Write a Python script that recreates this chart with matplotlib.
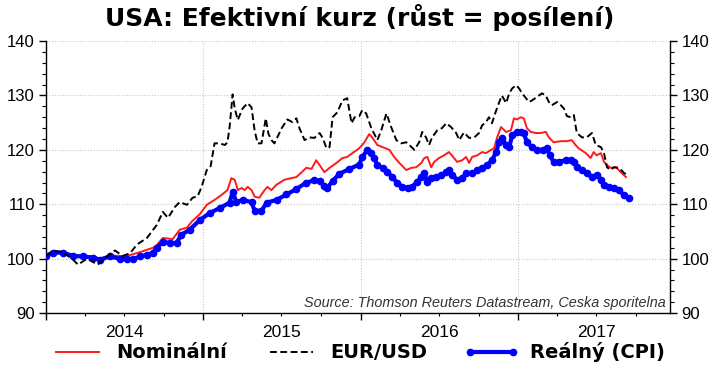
import matplotlib
matplotlib.use("Agg")
import matplotlib.pyplot as plt
import matplotlib.dates as mdates
from matplotlib.ticker import MultipleLocator, FuncFormatter, NullFormatter
import pandas as pd

plt.rcParams['font.family'] = ['Liberation Sans', 'DejaVu Sans']

title = "USA: Efektivní kurz (růst = posílení)"
source = "Source: Thomson Reuters Datastream, Ceska sporitelna"
labels = ["Nominální", "EUR/USD", "Reálný (CPI)"]

eurusd_dates = ["2014-01-01", "2014-01-17", "2014-02-09", "2014-03-05", "2014-03-16", "2014-04-06",
    "2014-05-01", "2014-05-22", "2014-06-10", "2014-06-28", "2014-07-15", "2014-07-31", "2014-08-23",
    "2014-09-15", "2014-09-29", "2014-10-11", "2014-10-27", "2014-11-07", "2014-11-24", "2014-12-07",
    "2014-12-19", "2014-12-28", "2015-01-09", "2015-01-18", "2015-01-27", "2015-02-08", "2015-02-20",
    "2015-02-26", "2015-03-03", "2015-03-10", "2015-03-15", "2015-03-22", "2015-04-02", "2015-04-14",
    "2015-04-23", "2015-04-30", "2015-05-07", "2015-05-16", "2015-05-26", "2015-06-01", "2015-06-08",
    "2015-06-15", "2015-07-02", "2015-07-15", "2015-07-27", "2015-08-05", "2015-08-12", "2015-08-24",
    "2015-09-04", "2015-09-16", "2015-09-28", "2015-10-05", "2015-10-14", "2015-10-21", "2015-10-28",
    "2015-11-08", "2015-11-20", "2015-12-01", "2015-12-11", "2015-12-18", "2015-12-29", "2016-01-05",
    "2016-01-14", "2016-01-26", "2016-02-09", "2016-02-18", "2016-03-01", "2016-03-12", "2016-03-24",
    "2016-04-04", "2016-04-16", "2016-04-23", "2016-05-05", "2016-05-16", "2016-05-23", "2016-06-01",
    "2016-06-08", "2016-06-15", "2016-06-27", "2016-07-08", "2016-07-18", "2016-07-29", "2016-08-10",
    "2016-08-17", "2016-08-28", "2016-09-09", "2016-09-21", "2016-10-02", "2016-10-09", "2016-10-18",
    "2016-10-25", "2016-11-01", "2016-11-11", "2016-11-17", "2016-11-24", "2016-12-04", "2016-12-11",
    "2016-12-18", "2016-12-27", "2017-01-03", "2017-01-10", "2017-01-19", "2017-01-26", "2017-02-02",
    "2017-02-13", "2017-02-25", "2017-03-06", "2017-03-13", "2017-03-20", "2017-04-01", "2017-04-10",
    "2017-04-17", "2017-04-24", "2017-05-03", "2017-05-10", "2017-05-17", "2017-05-29", "2017-06-09",
    "2017-06-21", "2017-06-30", "2017-07-12", "2017-07-19", "2017-07-26", "2017-08-04", "2017-08-11",
    "2017-08-23", "2017-09-03", "2017-09-10"]
eurusd_values = [100.5, 101.5, 101.2, 99.8, 98.9, 100.0,
    98.9, 100.4, 101.5, 100.5, 101.0, 102.6, 103.8,
    106.2, 108.6, 107.5, 109.5, 110.4, 109.9, 111.2,
    111.5, 113.2, 116.3, 117.0, 121.2, 121.2, 120.9,
    121.4, 124.2, 130.2, 127.6, 125.5, 127.6, 128.6,
    127.8, 123.6, 121.2, 121.2, 125.8, 123.0, 121.8,
    121.2, 124.0, 125.6, 125.1, 125.8, 124.0, 121.8,
    122.3, 122.2, 123.1, 122.2, 120.3, 120.5, 126.0,
    126.9, 129.1, 129.5, 124.9, 126.0, 126.2, 127.3,
    126.7, 124.0, 121.8, 123.6, 126.7, 124.2, 121.8,
    121.2, 121.4, 120.9, 120.0, 121.4, 123.3, 122.3,
    120.9, 122.3, 123.6, 124.0, 124.9, 124.2, 123.1,
    121.8, 123.2, 122.2, 122.3, 123.1, 124.5, 125.1,
    126.0, 124.9, 127.3, 128.6, 130.0, 128.6, 130.4,
    131.3, 131.9, 131.3, 130.4, 129.5, 128.8, 129.1,
    129.7, 130.4, 130.0, 128.8, 128.2, 128.8, 128.2,
    127.6, 126.2, 126.0, 126.4, 123.1, 122.3, 122.3,
    123.1, 120.9, 120.5, 119.4, 116.8, 116.3, 116.8,
    116.7, 115.8, 115.4]

nominal_dates = ["2014-01-01", "2014-01-17", "2014-02-09", "2014-03-05", "2014-03-28", "2014-04-20",
    "2014-05-06", "2014-05-29", "2014-06-21", "2014-07-08", "2014-08-07", "2014-09-06", "2014-09-15",
    "2014-09-29", "2014-10-22", "2014-11-07", "2014-11-24", "2014-12-05", "2014-12-24", "2015-01-09",
    "2015-01-27", "2015-02-12", "2015-02-26", "2015-03-07", "2015-03-15", "2015-03-22", "2015-03-31",
    "2015-04-07", "2015-04-14", "2015-04-23", "2015-04-30", "2015-05-11", "2015-05-23", "2015-05-30",
    "2015-06-08", "2015-06-20", "2015-07-08", "2015-07-24", "2015-08-05", "2015-08-16", "2015-08-28",
    "2015-09-09", "2015-09-20", "2015-09-28", "2015-10-09", "2015-10-21", "2015-11-06", "2015-11-20",
    "2015-12-01", "2015-12-13", "2015-12-29", "2016-01-10", "2016-01-21", "2016-01-28", "2016-02-09",
    "2016-02-21", "2016-03-08", "2016-03-19", "2016-03-31", "2016-04-16", "2016-04-28", "2016-05-09",
    "2016-05-21", "2016-05-28", "2016-06-04", "2016-06-13", "2016-06-20", "2016-07-01", "2016-07-13",
    "2016-07-24", "2016-07-31", "2016-08-12", "2016-08-24", "2016-09-02", "2016-09-09", "2016-09-16",
    "2016-09-28", "2016-10-09", "2016-10-18", "2016-10-30", "2016-11-06", "2016-11-13", "2016-11-22",
    "2016-12-04", "2016-12-15", "2016-12-22", "2016-12-29", "2017-01-07", "2017-01-14", "2017-01-21",
    "2017-01-30", "2017-02-11", "2017-02-22", "2017-03-06", "2017-03-13", "2017-03-24", "2017-04-10",
    "2017-04-24", "2017-05-05", "2017-05-14", "2017-05-21", "2017-06-07", "2017-06-18", "2017-06-25",
    "2017-07-02", "2017-07-12", "2017-07-19", "2017-07-26", "2017-08-04", "2017-08-16", "2017-08-27",
    "2017-09-08"]
nominal_values = [100.5, 101.0, 101.2, 100.6, 100.5, 100.4,
    100.0, 100.6, 100.5, 100.5, 101.2, 102.0, 102.5,
    103.8, 103.6, 105.3, 105.7, 106.8, 108.2, 109.9,
    110.8, 111.7, 112.6, 114.8, 114.5, 112.6, 113.0,
    112.6, 113.2, 112.6, 111.4, 111.2, 112.6, 113.2,
    112.6, 113.6, 114.5, 114.8, 115.0, 115.8, 116.7,
    116.5, 118.1, 117.2, 115.9, 116.7, 117.6, 118.5,
    118.7, 119.4, 120.3, 121.4, 122.9, 122.3, 120.9,
    120.5, 120.0, 118.7, 117.6, 116.3, 116.7, 116.8,
    117.6, 118.5, 118.7, 116.8, 117.8, 118.5, 119.0,
    119.6, 119.0, 117.8, 118.1, 118.7, 117.6, 118.7,
    119.0, 119.6, 119.4, 120.0, 120.3, 122.3, 124.2,
    123.3, 123.6, 125.8, 125.6, 126.0, 125.8, 124.0,
    123.3, 123.1, 123.1, 123.3, 122.3, 121.4, 121.6,
    121.6, 121.8, 120.9, 120.3, 119.4, 118.5, 119.6,
    119.0, 119.4, 117.8, 117.2, 116.7, 116.8, 115.9,
    115.0]

real_dates = ["2014-01-01", "2014-01-17", "2014-02-09", "2014-03-05", "2014-03-28", "2014-04-20",
    "2014-05-06", "2014-05-29", "2014-06-21", "2014-07-08", "2014-07-22", "2014-08-07", "2014-08-23",
    "2014-09-06", "2014-09-15", "2014-09-29", "2014-10-15", "2014-10-31", "2014-11-11", "2014-11-30",
    "2014-12-24", "2015-01-16", "2015-02-08", "2015-03-03", "2015-03-10", "2015-03-19", "2015-04-02",
    "2015-04-23", "2015-04-30", "2015-05-16", "2015-05-28", "2015-06-20", "2015-07-13", "2015-08-05",
    "2015-08-28", "2015-09-16", "2015-09-28", "2015-10-09", "2015-10-16", "2015-10-28", "2015-11-13",
    "2015-12-06", "2015-12-29", "2016-01-05", "2016-01-17", "2016-01-26", "2016-02-02", "2016-02-09",
    "2016-02-21", "2016-03-03", "2016-03-15", "2016-03-26", "2016-04-07", "2016-04-19", "2016-04-30",
    "2016-05-11", "2016-05-21", "2016-05-28", "2016-06-04", "2016-06-13", "2016-06-25", "2016-07-06",
    "2016-07-18", "2016-07-24", "2016-07-31", "2016-08-12", "2016-08-24", "2016-09-02", "2016-09-16",
    "2016-09-28", "2016-10-09", "2016-10-21", "2016-11-01", "2016-11-11", "2016-11-17", "2016-11-24",
    "2016-12-04", "2016-12-11", "2016-12-18", "2016-12-29", "2017-01-07", "2017-01-14", "2017-01-21",
    "2017-02-02", "2017-02-13", "2017-02-27", "2017-03-08", "2017-03-15", "2017-03-24", "2017-04-05",
    "2017-04-21", "2017-05-03", "2017-05-10", "2017-05-17", "2017-05-29", "2017-06-09", "2017-06-21",
    "2017-07-02", "2017-07-12", "2017-07-19", "2017-07-31", "2017-08-11", "2017-08-23", "2017-09-03",
    "2017-09-14"]
real_values = [100.5, 101.1, 101.1, 100.5, 100.4, 100.2,
    99.8, 100.4, 100.0, 100.0, 99.9, 100.4, 100.7,
    101.1, 102.0, 103.1, 102.9, 102.9, 104.4, 105.3,
    107.1, 108.4, 109.3, 110.3, 112.3, 110.4, 110.8,
    110.4, 108.8, 108.8, 110.3, 110.8, 111.8, 112.8,
    114.0, 114.4, 114.3, 113.3, 113.0, 114.3, 115.6,
    116.5, 117.3, 118.7, 120.0, 119.4, 118.5, 117.2,
    116.7, 115.9, 115.0, 113.9, 113.2, 113.0, 113.2,
    114.1, 115.0, 115.7, 114.1, 114.8, 115.0, 115.4,
    115.9, 116.3, 115.4, 114.5, 114.8, 115.7, 115.7,
    116.3, 116.7, 117.2, 118.1, 119.6, 121.4, 122.2,
    120.9, 120.5, 122.7, 123.3, 123.3, 123.1, 121.4,
    120.5, 120.0, 120.0, 120.3, 119.0, 117.8, 117.8,
    118.1, 118.1, 117.8, 116.8, 116.3, 115.7, 115.0,
    115.4, 114.5, 113.6, 113.2, 113.0, 112.6, 111.7,
    111.2]

fig = plt.figure(figsize=(7.2, 3.67), dpi=100)
ax = fig.add_axes([0.064, 0.147, 0.867, 0.741])

l_nom, = ax.plot(pd.to_datetime(nominal_dates), nominal_values, color='#ff1a1a', lw=1.4, zorder=3)
l_real, = ax.plot(pd.to_datetime(real_dates), real_values, color='#0000ff', lw=3.0,
                  marker='o', markersize=4.5, zorder=4)
l_eur, = ax.plot(pd.to_datetime(eurusd_dates), eurusd_values, color='black', lw=1.4,
                 ls=(0, (3.5, 1.8)), zorder=5)

ax.set_ylim(90, 140)
ax.set_xlim(pd.Timestamp("2014-01-01"), pd.Timestamp("2017-12-20"))

ax.yaxis.set_major_locator(MultipleLocator(10))
ax.yaxis.set_minor_locator(MultipleLocator(2))
ax.tick_params(axis='y', which='major', direction='out', length=5, width=1, labelsize=12,
               left=True, right=True, labelleft=True, labelright=True, pad=3)
ax.tick_params(axis='y', which='minor', direction='out', length=3, width=0.8, left=True, right=True)

ax.xaxis.set_major_locator(mdates.YearLocator())
ax.xaxis.set_major_formatter(NullFormatter())
ax.xaxis.set_minor_locator(mdates.MonthLocator(bymonth=(4, 7, 10)))
ax.xaxis.set_minor_formatter(FuncFormatter(
    lambda v, p: str(mdates.num2date(v).year) if mdates.num2date(v).month == 7 else ''))
ax.tick_params(axis='x', which='major', direction='out', length=5, width=1)
ax.tick_params(axis='x', which='minor', direction='out', length=2.5, width=0.8, labelsize=12.5, pad=6)

ax.grid(True, which='major', color='#c8c8c8', lw=0.8, ls=(0, (1, 1.5)))
ax.set_axisbelow(True)
ax.spines['top'].set_visible(False)
for s in ('left', 'right', 'bottom'):
    ax.spines[s].set_linewidth(1.0)

ax.text(0.993, 0.012, source, transform=ax.transAxes, ha='right', va='bottom',
        fontsize=10.4, style='italic', color='#333333')

fig.text(0.5, 0.952, title, ha='center', va='center', fontsize=18, fontweight='bold',
         family=['DejaVu Sans'])

fig.legend([l_nom, l_eur, l_real], labels, loc='center', bbox_to_anchor=(0.497, 0.04), ncol=3,
           frameon=False, prop={'weight': 'bold', 'size': 14, 'family': ['DejaVu Sans']},
           handlelength=2.8, columnspacing=1.9, handletextpad=0.6, numpoints=2, markerscale=1.0)

fig.savefig("out.png", dpi=100)
